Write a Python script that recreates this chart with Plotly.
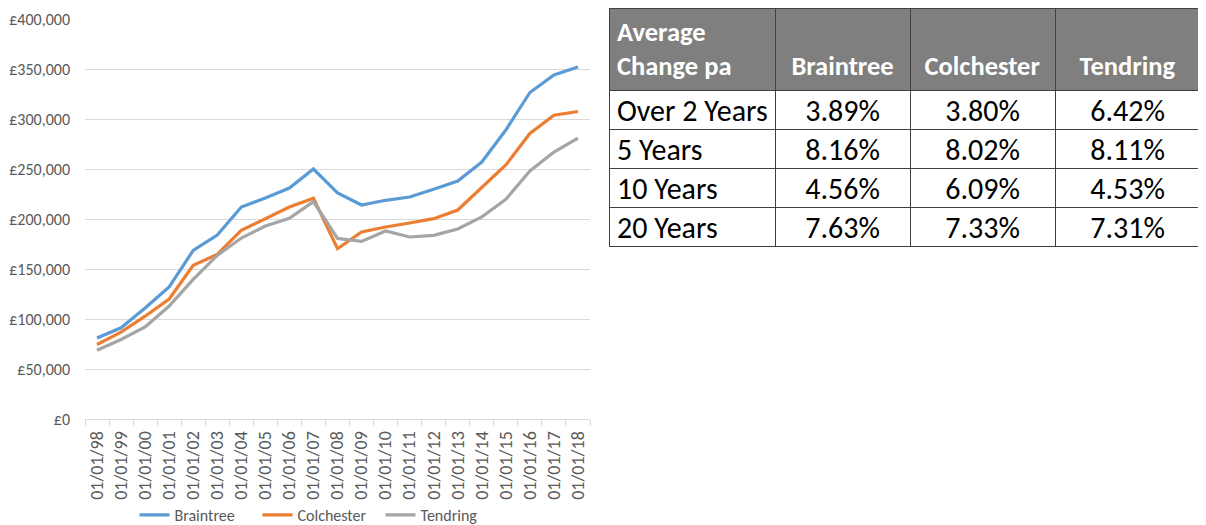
import plotly.graph_objects as go

# page has an 8px body margin, so the figure sits 8px in from the top-left
OFF = 8
W, H = 1206 - OFF, 525

dates = ["01/01/%02d" % (y % 100) for y in range(1998, 2019)]
braintree = [81100, 91200, 111000, 132000, 168600, 184000, 212000, 221000, 231000, 250000,
             226000, 214000, 218700, 222000, 229700, 238000, 257000, 289000, 326500, 344000, 352000]
colchester = [74500, 86800, 102800, 120000, 153600, 164600, 188600, 200700, 212000, 220700,
              170300, 187000, 192000, 196000, 200300, 209000, 231000, 254000, 285500, 303800, 307500]
tendring = [68800, 79500, 92000, 113000, 139600, 163600, 181000, 193000, 200700, 217400,
            180600, 177600, 188000, 182000, 183600, 190000, 202000, 219700, 248000, 267000, 280800]

series_names = ["Braintree", "Colchester", "Tendring"]
series_colors = ["#5b9bd5", "#ed7d31", "#a5a5a5"]

table_header = ["Average<br>Change pa", "&nbsp;<br>Braintree", "&nbsp;<br>Colchester", "&nbsp;<br>Tendring"]
row_labels = ["Over 2 Years", "5 Years", "10 Years", "20 Years"]
braintree_change = ["3.89%", "8.16%", "4.56%", "7.63%"]
colchester_change = ["3.80%", "8.02%", "6.09%", "7.33%"]
tendring_change = ["6.42%", "8.11%", "4.53%", "7.31%"]

FONT = "Carlito, Calibri, 'Liberation Sans Narrow', 'Open Sans', sans-serif"


def px(x):
    return (x - OFF) / W


def py(y):
    return 1 - (y - OFF) / H


# non-breaking spaces keep each row label on one line inside its cell
row_cells = [s.replace(" ", "\u00a0") for s in row_labels]

fig = go.Figure()
for name, vals, col in zip(series_names, [braintree, colchester, tendring], series_colors):
    fig.add_trace(go.Scatter(x=dates, y=vals, name=name, mode="lines",
                             line=dict(color=col, width=3.2)))

fig.add_trace(go.Table(
    domain=dict(x=[px(609), px(1200)], y=[0.3, py(8)]),
    columnwidth=[166, 135, 145, 145],
    header=dict(values=table_header, fill_color="#7f7f7f",
                font=dict(family=FONT, size=26.5, color="white", weight="bold"),
                align=["left", "center", "center", "center"],
                line=dict(color="#404040", width=1), height=78),
    cells=dict(values=[row_cells, braintree_change, colchester_change, tendring_change],
               fill_color="white",
               font=dict(family=FONT, size=30, color="black"),
               align=["left", "center", "center", "center"],
               line=dict(color="#404040", width=1), height=39),
))

fig.update_layout(
    width=W, height=H,
    margin=dict(l=0, r=0, t=0, b=0),
    paper_bgcolor="white", plot_bgcolor="white",
    font=dict(family=FONT, size=15, color="#595959"),
    xaxis=dict(domain=[px(85), px(590)], type="category", range=[-0.5, 20.5],
               tickangle=-90, tickson="boundaries", ticks="outside", ticklen=6,
               tickcolor="#d9d9d9", showline=True, linecolor="#d9d9d9", linewidth=1,
               showgrid=False, automargin=False, ticklabelstandoff=4,
               tickfont=dict(size=18, color="#595959")),
    yaxis=dict(domain=[py(419), py(19)], range=[0, 400000], dtick=50000,
               tickprefix="£", tickformat=",", showgrid=True, gridcolor="#d9d9d9",
               gridwidth=1, zeroline=False, automargin=False, ticklabelstandoff=14,
               tickfont=dict(size=16, color="#595959")),
    legend=dict(orientation="h", x=px(319), xanchor="center", y=py(515), yanchor="middle",
                entrywidth=78, entrywidthmode="pixels",
                font=dict(size=16, color="#595959"), bgcolor="rgba(0,0,0,0)"),
    showlegend=True,
)

fig.write_html("out.html")
